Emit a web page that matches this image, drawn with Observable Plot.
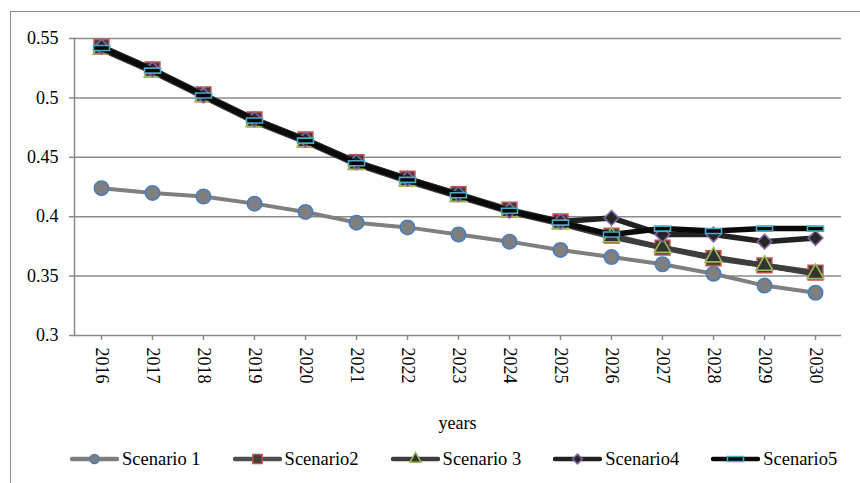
<!DOCTYPE html>
<html>
<head>
<meta charset="utf-8">
<script src="https://cdn.jsdelivr.net/npm/d3@7"></script>
<script src="https://cdn.jsdelivr.net/npm/@observablehq/plot@0.6"></script>
<style>
  html, body { margin: 0; padding: 0; background: #fff; }
  #wrap { position: relative; width: 860px; height: 483px; overflow: hidden; font-family: "Liberation Serif", "Times New Roman", serif; }
  #border { position: absolute; left: 10px; top: 11px; width: 900px; height: 520px; border: 1.5px solid #8c8c8c; box-sizing: border-box; pointer-events: none; }
  #chart { position: absolute; left: 0; top: 0; }
  #chart svg, #chart svg text { font-family: "Liberation Serif", "Times New Roman", serif !important; }
  #xlabel { position: absolute; left: 74px; width: 767px; top: 412px; text-align: center; font-size: 18px; line-height: 22px; color: #000; }
  #legend { position: absolute; left: 70px; top: 448px; display: flex; gap: 32px; align-items: center; font-size: 18.5px; line-height: 22px; color: #000; }
  .item { display: flex; align-items: center; gap: 3px; }
</style>
</head>
<body>
<div id="wrap">
  <div id="chart"></div>
  <div id="xlabel">years</div>
  <div id="legend"></div>
  <div id="border"></div>
</div>
<script>
const years = [2016, 2017, 2018, 2019, 2020, 2021, 2022, 2023, 2024, 2025, 2026, 2027, 2028, 2029, 2030];
const seriesNames = ["Scenario 1", "Scenario2", "Scenario 3", "Scenario4", "Scenario5"];
const scenario1 = [0.424, 0.420, 0.417, 0.411, 0.404, 0.395, 0.391, 0.385, 0.379, 0.372, 0.366, 0.360, 0.352, 0.342, 0.336];
const scenario2 = [0.543, 0.524, 0.503, 0.482, 0.465, 0.446, 0.432, 0.419, 0.406, 0.396, 0.384, 0.374, 0.365, 0.359, 0.353];
const scenario3 = [0.541, 0.522, 0.501, 0.480, 0.463, 0.444, 0.430, 0.417, 0.404, 0.394, 0.383, 0.374, 0.366, 0.359, 0.352];
const scenario4 = [0.543, 0.524, 0.502, 0.482, 0.465, 0.446, 0.432, 0.419, 0.405, 0.396, 0.399, 0.385, 0.385, 0.379, 0.382];
const scenario5 = [0.542, 0.523, 0.502, 0.481, 0.464, 0.445, 0.431, 0.418, 0.405, 0.395, 0.385, 0.390, 0.388, 0.390, 0.390];
const yTicks = [0.3, 0.35, 0.4, 0.45, 0.5, 0.55];

const dashSymbol = { draw(ctx) { ctx.moveTo(-8, -2.5); ctx.lineTo(8, -2.5); ctx.lineTo(8, 2.5); ctx.lineTo(-8, 2.5); ctx.closePath(); } };

const styles = [
  { line: "#7f7f7f", lw: 4,   symbol: "circle",   r: 7.2, fill: "#7f7f7f", stroke: "#4a7ebb", lr: 4.6 },
  { line: "#4f4f4f", lw: 5.5, symbol: "square",   r: 8.3, fill: "#3f3f3f", stroke: "#c0504d", lr: 5.2 },
  { line: "#3d3d3d", lw: 5.5, symbol: "triangle", r: 6.2, fill: "#333333", stroke: "#9bbb59", lr: 4.2 },
  { line: "#222222", lw: 5.5, symbol: "diamond2", r: 6.6, fill: "#262626", stroke: "#8064a2", lr: 4.4 },
  { line: "#0a0a0a", lw: 5.5, symbol: dashSymbol, r: 6,   fill: "#000000", stroke: "#4bacc6", lr: 4 }
];
const allValues = [scenario1, scenario2, scenario3, scenario4, scenario5];

const seriesData = allValues.map((vals, i) => years.map((yr, j) => ({ year: yr, value: vals[j], series: seriesNames[i] })));

const marks = [
  Plot.gridY(yTicks, { stroke: "#8a8a8a", strokeOpacity: 1, strokeWidth: 1.5 }),
  Plot.frame({ anchor: "left", stroke: "#8a8a8a", strokeWidth: 1.5 }),
  Plot.axisY(yTicks, { tickSize: 5, tickPadding: 11, stroke: "#8a8a8a", strokeWidth: 1.5, tickFormat: d => String(+d.toFixed(2)), fill: "#000", fontSize: 18 }),
  Plot.axisX(years, { tickSize: 5, tickPadding: 7, tickRotate: 90, stroke: "#8a8a8a", strokeWidth: 1.5, fill: "#000", fontSize: 18, label: null, tickFormat: d => String(d) })
];
seriesData.forEach((data, i) => {
  const s = styles[i];
  marks.push(Plot.line(data, { x: "year", y: "value", stroke: s.line, strokeWidth: s.lw, strokeLinejoin: "round", strokeLinecap: "round" }));
  marks.push(Plot.dot(data, { x: "year", y: "value", symbol: () => s.symbol, r: s.r, fill: s.fill, stroke: s.stroke, strokeWidth: 1.6 }));
});

const chart = Plot.plot({
  width: 860,
  height: 400,
  marginLeft: 74,
  marginRight: 19,
  marginTop: 38,
  marginBottom: 65,
  style: { fontFamily: "'Liberation Serif', 'Times New Roman', serif", fontSize: "18px", color: "#000", background: "transparent", overflow: "visible" },
  x: { type: "point", domain: years, padding: 0.5, label: null },
  y: { domain: [0.3, 0.55], label: null },
  symbol: { type: "identity" },
  marks
});
document.getElementById("chart").appendChild(chart);

// legend
const legend = d3.select("#legend");
seriesNames.forEach((name, i) => {
  const s = styles[i];
  const item = legend.append("div").attr("class", "item");
  const svg = item.append("svg").attr("width", 49).attr("height", 20);
  svg.append("line").attr("x1", 2).attr("x2", 47).attr("y1", 10).attr("y2", 10)
    .attr("stroke", s.line).attr("stroke-width", 4.5).attr("stroke-linecap", "round");
  const sym = typeof s.symbol === "string"
    ? ({ circle: d3.symbolCircle, square: d3.symbolSquare, triangle: d3.symbolTriangle, diamond2: d3.symbolDiamond2 })[s.symbol]
    : s.symbol;
  svg.append("path").attr("transform", "translate(24.5,10)")
    .attr("d", d3.symbol(sym, Math.PI * s.lr * s.lr)())
    .attr("fill", s.fill).attr("stroke", s.stroke).attr("stroke-width", 1.5);
  item.append("span").text(name);
});
</script>
</body>
</html>
